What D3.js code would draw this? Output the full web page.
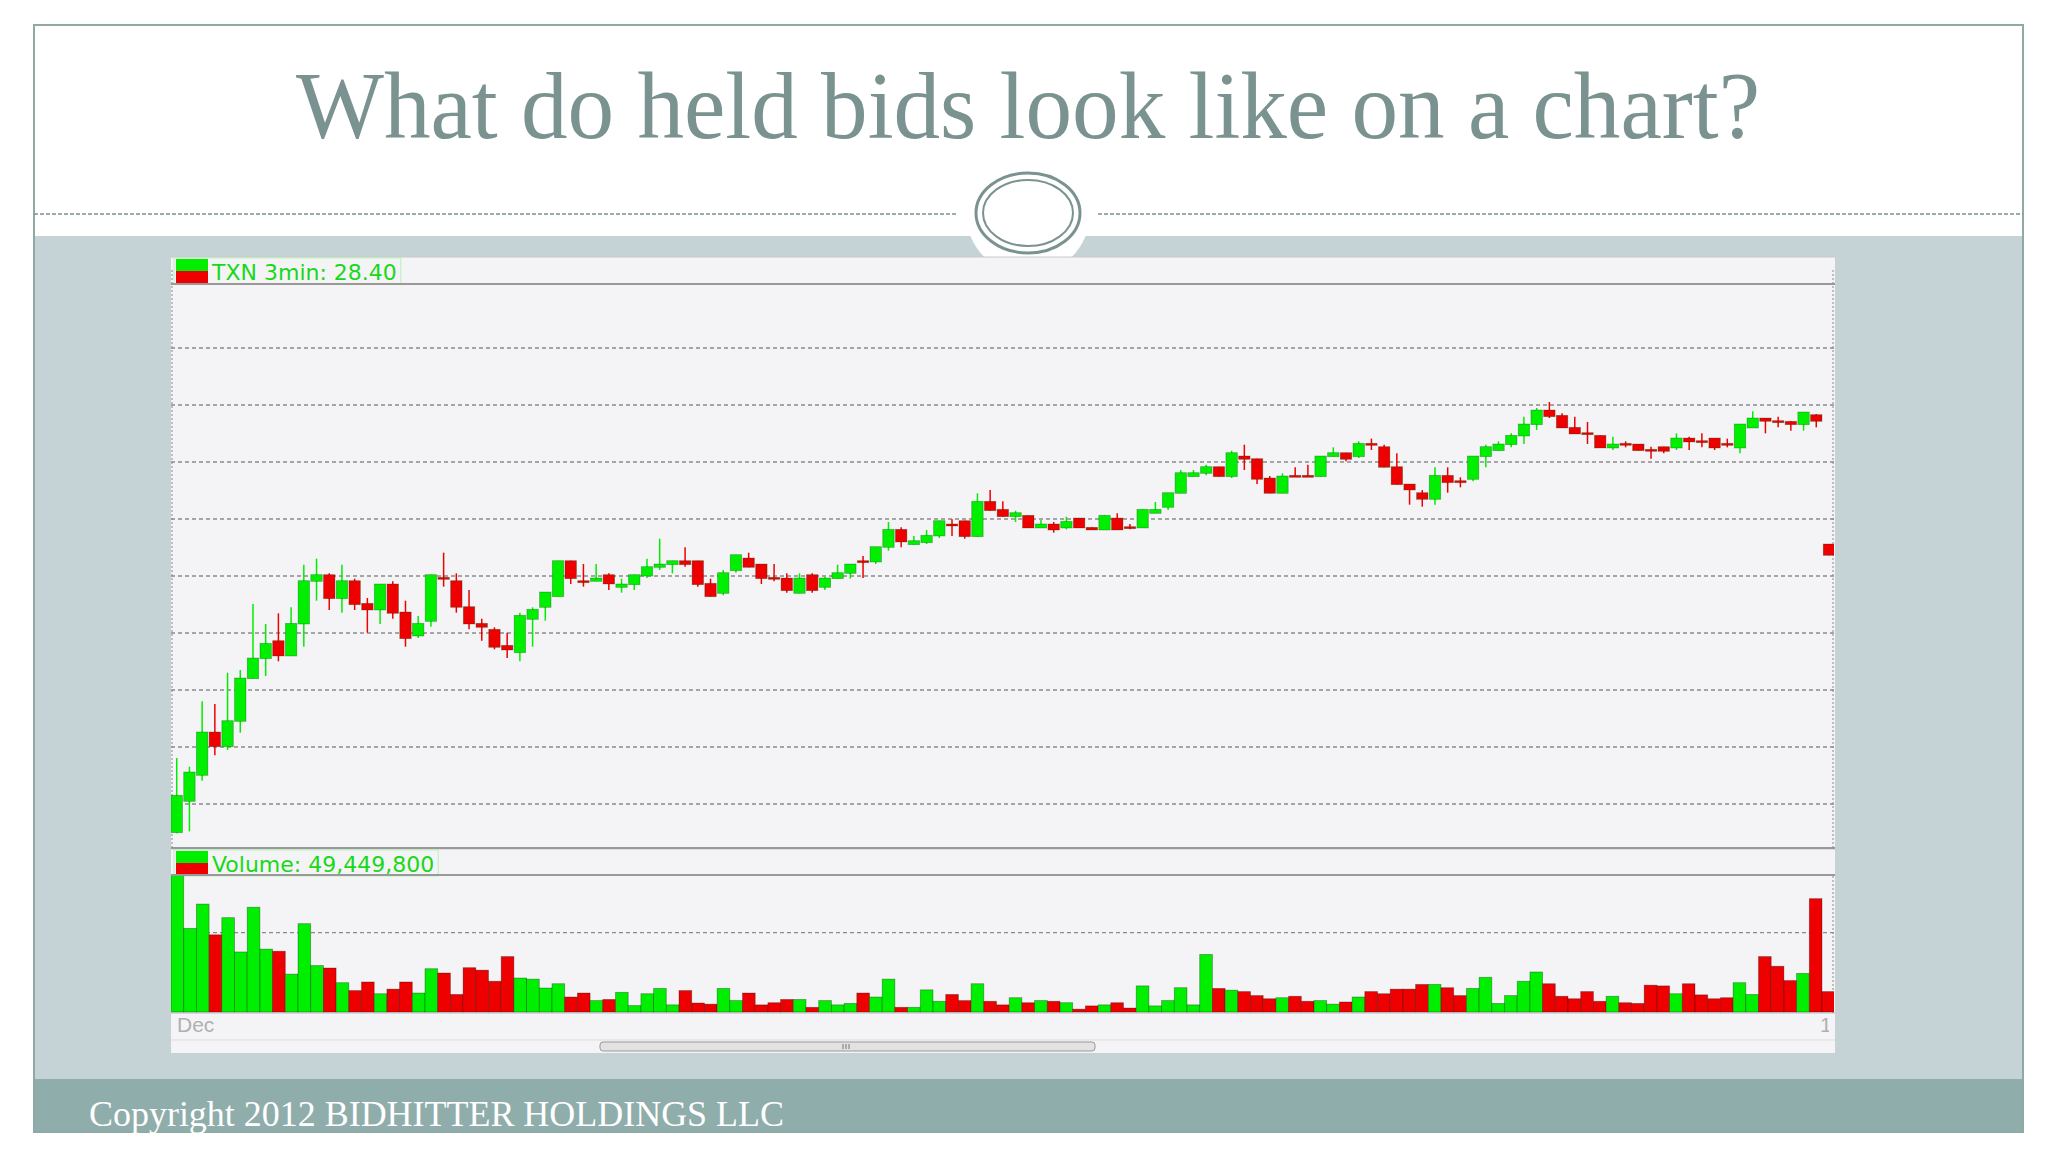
<!DOCTYPE html>
<html>
<head>
<meta charset="utf-8">
<script src="https://cdn.jsdelivr.net/npm/d3@7"></script>
<style>
  body { margin: 0; background: #fff; }
  svg { display: block; }
</style>
</head>
<body>
<svg id="chart" width="2048" height="1152"></svg>
<script>
const title = "What do held bids look like on a chart?";
const footer = "Copyright 2012 BIDHITTER HOLDINGS LLC";
const priceLabel = "TXN 3min: 28.40";
const volumeLabel = "Volume: 49,449,800";
const xLabels = ["Dec", "12"];

// 3-minute candles
const opens = [27.786,27.833,27.872,27.937,27.915,27.953,28.017,28.047,28.074,28.051,
28.099,28.163,28.173,28.137,28.164,28.130,28.120,28.159,28.117,28.081,
28.103,28.169,28.164,28.125,28.100,28.091,28.067,28.056,28.106,28.124,
28.140,28.194,28.164,28.163,28.173,28.154,28.158,28.171,28.184,28.188,
28.194,28.194,28.160,28.145,28.179,28.198,28.189,28.169,28.168,28.145,
28.173,28.154,28.167,28.175,28.194,28.192,28.214,28.241,28.218,28.221,
28.231,28.249,28.254,28.230,28.283,28.271,28.260,28.262,28.243,28.249,
28.243,28.258,28.244,28.240,28.258,28.245,28.243,28.265,28.274,28.295,
28.320,28.325,28.335,28.320,28.351,28.347,28.318,28.295,28.322,28.322,
28.320,28.350,28.356,28.350,28.370,28.365,28.335,28.309,28.296,28.286,
28.322,28.314,28.316,28.350,28.359,28.368,28.381,28.398,28.420,28.412,
28.394,28.386,28.382,28.363,28.370,28.369,28.361,28.365,28.363,28.378,
28.374,28.378,28.370,28.363,28.393,28.408,28.404,28.403,28.398,28.413,28.219];
const highs = [27.898,27.885,27.983,27.979,28.026,28.030,28.129,28.099,28.115,28.124,
28.188,28.197,28.175,28.188,28.167,28.138,28.159,28.163,28.134,28.111,
28.173,28.206,28.175,28.150,28.107,28.094,28.086,28.116,28.124,28.147,
28.194,28.194,28.189,28.189,28.175,28.167,28.173,28.197,28.227,28.194,
28.214,28.194,28.167,28.180,28.203,28.206,28.189,28.189,28.175,28.175,
28.175,28.170,28.188,28.189,28.201,28.215,28.252,28.244,28.231,28.240,
28.254,28.256,28.254,28.295,28.300,28.283,28.269,28.262,28.255,28.252,
28.260,28.258,28.244,28.262,28.265,28.249,28.271,28.282,28.296,28.330,
28.330,28.338,28.335,28.359,28.368,28.347,28.321,28.325,28.334,28.338,
28.351,28.364,28.356,28.373,28.377,28.368,28.355,28.309,28.300,28.334,
28.334,28.319,28.351,28.368,28.373,28.385,28.410,28.423,28.432,28.415,
28.410,28.402,28.382,28.380,28.373,28.369,28.365,28.365,28.385,28.380,
28.385,28.378,28.377,28.399,28.418,28.408,28.410,28.403,28.417,28.414,28.219];
const lows = [27.785,27.788,27.864,27.902,27.910,27.936,28.017,28.021,28.043,28.051,
28.065,28.134,28.120,28.116,28.120,28.086,28.099,28.107,28.065,28.078,
28.095,28.155,28.116,28.091,28.074,28.061,28.048,28.043,28.065,28.104,
28.140,28.159,28.155,28.163,28.150,28.146,28.150,28.168,28.180,28.175,
28.185,28.155,28.140,28.142,28.176,28.184,28.159,28.163,28.146,28.145,
28.146,28.150,28.167,28.167,28.168,28.189,28.209,28.214,28.218,28.219,
28.228,28.231,28.227,28.230,28.269,28.260,28.252,28.243,28.243,28.236,
28.241,28.243,28.240,28.240,28.240,28.241,28.243,28.265,28.270,28.295,
28.320,28.322,28.320,28.318,28.330,28.309,28.295,28.295,28.320,28.320,
28.320,28.350,28.343,28.348,28.360,28.334,28.308,28.278,28.275,28.278,
28.296,28.304,28.313,28.334,28.359,28.364,28.369,28.390,28.408,28.393,
28.384,28.369,28.363,28.360,28.364,28.359,28.347,28.355,28.360,28.360,
28.364,28.360,28.364,28.355,28.393,28.385,28.394,28.389,28.389,28.394,28.202];
const closes = [27.842,27.877,27.937,27.915,27.954,28.018,28.048,28.070,28.051,28.100,
28.164,28.173,28.137,28.164,28.128,28.120,28.159,28.115,28.077,28.100,
28.173,28.167,28.124,28.099,28.094,28.064,28.060,28.112,28.121,28.147,
28.194,28.167,28.162,28.168,28.159,28.159,28.173,28.185,28.189,28.194,
28.188,28.158,28.140,28.176,28.203,28.184,28.167,28.166,28.149,28.168,
28.149,28.168,28.176,28.189,28.192,28.215,28.241,28.222,28.224,28.232,
28.254,28.247,28.230,28.283,28.269,28.260,28.266,28.243,28.249,28.240,
28.253,28.243,28.240,28.262,28.240,28.243,28.271,28.271,28.296,28.326,
28.326,28.335,28.320,28.356,28.346,28.316,28.295,28.321,28.320,28.320,
28.351,28.356,28.346,28.370,28.368,28.334,28.308,28.300,28.286,28.322,
28.311,28.312,28.351,28.365,28.369,28.382,28.399,28.420,28.410,28.393,
28.384,28.384,28.363,28.369,28.368,28.359,28.359,28.358,28.378,28.372,
28.372,28.363,28.368,28.399,28.408,28.403,28.402,28.398,28.417,28.403,28.202];

// volume in thousands of shares, and bar colour (G up / R down)
const volumes = [1764,1053,1359,972,1188,756,1319,792,765,477,
1112,585,554,369,270,378,230,288,378,239,
545,491,221,558,527,387,698,428,414,302,
356,189,239,144,158,248,81,230,297,90,
270,113,99,297,144,239,90,117,158,158,
59,144,90,108,239,189,414,59,59,279,
135,221,144,356,135,90,180,117,144,135,
117,36,77,90,117,50,329,77,144,306,
90,725,297,275,257,207,167,180,198,135,
144,99,126,189,257,230,288,288,347,347,
306,207,297,437,108,207,387,504,356,198,
167,257,135,198,117,108,338,329,230,356,
216,167,180,369,221,698,576,396,486,1427,257];
const volDir = ("GGGRGGGGRG" + "GGRGRRGRRG" + "GRRRRRRGGG" + "GRRGRGGGGG" + "RRRGGRRRRG" +
  "RGGGRGGRGG" + "GRRGRRGRGR" + "GRRGRRGGGG" + "GGRGRRRGRR" + "GGRGRRRRRG" +
  "RRGGGGGGRR" + "RRRGRRRRGR" + "RRRGGRRRGRR").split("");

const gridPrices = [28.513, 28.4275, 28.342, 28.2565, 28.171, 28.0855, 28.0, 27.9145, 27.829];
const gridVolumes = [1000];

const green = "#00ee00", red = "#ee0000", slate = "#7b9390";
const svg = d3.select("#chart");

// slide frame
svg.append("rect").attr("x", 34).attr("y", 236).attr("width", 1989).attr("height", 843).attr("fill", "#c6d3d6");
svg.append("rect").attr("x", 34).attr("y", 1079).attr("width", 1989).attr("height", 53).attr("fill", "#8fadab");
svg.append("rect").attr("x", 34).attr("y", 25).attr("width", 1989).attr("height", 1107)
  .attr("fill", "none").attr("stroke", "#8fa9a6").attr("stroke-width", 2);

svg.append("text").attr("x", 1028).attr("y", 138).attr("text-anchor", "middle")
  .attr("font-family", "Liberation Serif, serif").attr("font-size", 96)
  .attr("textLength", 1464).attr("lengthAdjust", "spacingAndGlyphs")
  .attr("fill", slate).text(title);

[[34, 958], [1098, 2023]].forEach(([a, b]) =>
  svg.append("line").attr("x1", a).attr("x2", b).attr("y1", 214).attr("y2", 214)
    .attr("stroke", slate).attr("stroke-width", 1.5).attr("stroke-dasharray", "4,2"));

svg.append("circle").attr("cx", 1028).attr("cy", 213).attr("r", 62).attr("fill", "#fff");
svg.append("ellipse").attr("cx", 1028).attr("cy", 213).attr("rx", 52).attr("ry", 40)
  .attr("fill", "none").attr("stroke", slate).attr("stroke-width", 3);
svg.append("ellipse").attr("cx", 1028).attr("cy", 213).attr("rx", 45).attr("ry", 33)
  .attr("fill", "none").attr("stroke", slate).attr("stroke-width", 2);

svg.append("text").attr("x", 89).attr("y", 1126)
  .attr("font-family", "Liberation Serif, serif").attr("font-size", 35)
  .attr("textLength", 695).attr("lengthAdjust", "spacingAndGlyphs")
  .attr("fill", "#fff").text(footer);

// chart panel
const left = 171, right = 1835;
svg.append("rect").attr("x", left).attr("y", 257).attr("width", right - left).attr("height", 796).attr("fill", "#f4f4f6");

const defs = svg.append("defs");
defs.append("clipPath").attr("id", "pclip").append("rect").attr("x", left).attr("y", 284).attr("width", right - left - 1).attr("height", 563);
defs.append("clipPath").attr("id", "vclip").append("rect").attr("x", left).attr("y", 876).attr("width", right - left - 1).attr("height", 137);
defs.append("clipPath").attr("id", "xclip").append("rect").attr("x", left).attr("y", 1013).attr("width", right - left - 6).attr("height", 30);

const idx = d3.range(opens.length);
const x = d3.scaleBand().domain(idx).range([left, left + 12.7 * idx.length]).paddingInner(0.1);
const y = d3.scaleLinear().domain([27.7645, 28.609]).range([847, 284]);
const yv = d3.scaleLinear().domain([0, 1750]).range([1012, 873]);

function paneBox(top, label) {
  svg.append("line").attr("x1", left).attr("x2", right).attr("y1", top).attr("y2", top).attr("stroke", "#c8c8c8");
  const g = svg.append("g");
  g.append("rect").attr("x", 176).attr("y", top + 2).attr("width", 32).attr("height", 12).attr("fill", green);
  g.append("rect").attr("x", 176).attr("y", top + 14).attr("width", 32).attr("height", 12).attr("fill", red);
  const t = g.append("text").attr("x", 212).attr("y", top + 23)
    .attr("font-family", "DejaVu Sans, Verdana, sans-serif").attr("font-size", 22)
    .attr("fill", "#18d818").text(label);
  const w = t.node().getComputedTextLength();
  g.append("rect").attr("x", 174).attr("y", top + 1).attr("width", w + 42).attr("height", 26)
    .attr("fill", "none").attr("stroke", "#b8f0b8");
}
paneBox(257, priceLabel);
paneBox(849, volumeLabel);

// pane borders
svg.append("line").attr("x1", left).attr("x2", right).attr("y1", 284).attr("y2", 284).attr("stroke", "#999").attr("stroke-width", 2);
svg.append("line").attr("x1", left).attr("x2", right).attr("y1", 848).attr("y2", 848).attr("stroke", "#999").attr("stroke-width", 2);
svg.append("line").attr("x1", left).attr("x2", right).attr("y1", 875).attr("y2", 875).attr("stroke", "#999").attr("stroke-width", 2);
svg.append("line").attr("x1", left).attr("x2", right).attr("y1", 1013).attr("y2", 1013).attr("stroke", "#bbb");
[left + 1, right - 2].forEach(xx => {
  svg.append("line").attr("x1", xx).attr("x2", xx).attr("y1", 270).attr("y2", 848)
    .attr("stroke", "#888").attr("stroke-dasharray", "2,2");
});
svg.append("line").attr("x1", right - 2).attr("x2", right - 2).attr("y1", 876).attr("y2", 1013)
  .attr("stroke", "#888").attr("stroke-dasharray", "2,2");

// gridlines
svg.append("g").selectAll("line").data(gridPrices).join("line")
  .attr("x1", left).attr("x2", right).attr("y1", d => y(d)).attr("y2", d => y(d))
  .attr("stroke", "#8a8a8a").attr("stroke-width", 1.3).attr("stroke-dasharray", "4,3");
svg.append("g").selectAll("line").data(gridVolumes).join("line")
  .attr("x1", left).attr("x2", right).attr("y1", d => yv(d)).attr("y2", d => yv(d))
  .attr("stroke", "#8a8a8a").attr("stroke-width", 1.3).attr("stroke-dasharray", "4,3");

// candles
const pg = svg.append("g").attr("clip-path", "url(#pclip)");
const col = i => closes[i] >= opens[i] + 0.003 ? green : red;
pg.selectAll("line.wick").data(idx).join("line").attr("class", "wick")
  .attr("x1", i => x(i) + x.bandwidth() / 2).attr("x2", i => x(i) + x.bandwidth() / 2)
  .attr("y1", i => y(highs[i])).attr("y2", i => y(lows[i]))
  .attr("stroke", col).attr("stroke-width", 1.5);
pg.selectAll("rect.body").data(idx).join("rect").attr("class", "body")
  .attr("x", i => x(i)).attr("width", x.bandwidth())
  .attr("y", i => y(Math.max(opens[i], closes[i])))
  .attr("height", i => Math.max(2, Math.abs(y(opens[i]) - y(closes[i]))))
  .attr("fill", col).attr("stroke", "rgba(0,60,0,0.35)").attr("stroke-width", 0.8);

// volume
const vg = svg.append("g").attr("clip-path", "url(#vclip)");
const xv = x.copy().paddingInner(0);
vg.selectAll("rect").data(idx).join("rect")
  .attr("x", i => xv(i)).attr("width", xv.bandwidth())
  .attr("y", i => yv(volumes[i])).attr("height", i => yv(0) - yv(volumes[i]))
  .attr("fill", i => volDir[i] === "G" ? green : red)
  .attr("stroke", "rgba(0,0,0,0.35)").attr("stroke-width", 0.8);

// x labels
svg.append("text").attr("x", 177).attr("y", 1032).attr("font-family", "Liberation Sans, Arial, sans-serif")
  .attr("font-size", 21).attr("fill", "#b0b0b0").text(xLabels[0]);
svg.append("text").attr("x", 1820).attr("y", 1032).attr("clip-path", "url(#xclip)").attr("font-family", "Liberation Sans, Arial, sans-serif")
  .attr("font-size", 21).attr("fill", "#b0b0b0").text(xLabels[1]);

// scrollbar
svg.append("line").attr("x1", left).attr("x2", right).attr("y1", 1040).attr("y2", 1040).attr("stroke", "#ddd");
svg.append("rect").attr("x", 600).attr("y", 1042).attr("width", 495).attr("height", 9).attr("rx", 3)
  .attr("fill", "#e2e2e2").attr("stroke", "#999");
[843, 846, 849].forEach(xx => svg.append("line").attr("x1", xx).attr("x2", xx).attr("y1", 1044).attr("y2", 1049).attr("stroke", "#777"));
</script>
</body>
</html>
